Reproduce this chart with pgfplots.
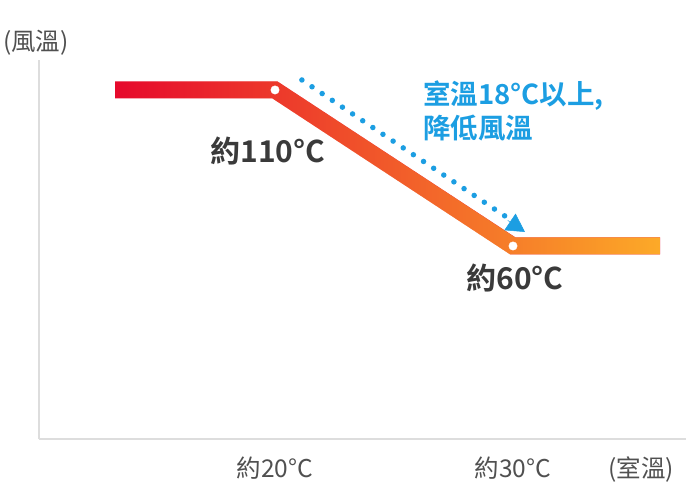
\documentclass[border=0pt]{standalone}
\usepackage{fontspec}
\usepackage{pgfplots}
\pgfplotsset{compat=1.18}
\usetikzlibrary{fadings,arrows.meta}
\setmainfont{Noto Sans CJK TC}
\newfontfamily\cjk{Noto Sans CJK TC}
\newfontfamily\cjkb{Noto Sans CJK TC Bold}
\definecolor{lred}{HTML}{E6072D}
\definecolor{lorange}{HTML}{FDAD28}
\definecolor{cblue}{HTML}{1C9EE2}
\definecolor{txt}{HTML}{3A3A3A}
\definecolor{tick}{HTML}{505050}
\definecolor{axl}{HTML}{DDDDDD}
\tikzfading[name=fadein, left color=transparent!100, right color=transparent!0]
\begin{document}
\begin{tikzpicture}[x=1pt,y=1pt]
\useasboundingbox (0,0) rectangle (686,-491);
\begin{axis}[
  at={(39pt,-439pt)}, anchor=south west,
  scale only axis, width=647pt, height=379pt,
  xmin=10.084, xmax=37.269, ymin=-1.86, ymax=119.6,
  axis x line=bottom, axis y line=left,
  axis line style={-, draw=axl, line width=1.5pt},
  xtick={20,30,35.38}, xticklabels={約20°C,約30°C,(室溫)},
  ytick=\empty, major tick length=0pt,
  xticklabel style={font=\cjk\fontsize{24.5}{28}\selectfont, text=tick, anchor=base, inner sep=0pt, yshift=-38pt},
  clip=false,
]
\addplot[line width=17pt, draw=lred] coordinates {(13.28,110) (20,110) (30,60) (36.18,60)};
\addplot[line width=17pt, draw=lorange, path fading=fadein] coordinates {(13.28,110) (20,110) (30,60) (36.18,60)};
\addplot[only marks, color=white, mark=*, mark size=4.2pt] coordinates {(20,110) (30,60)};
\addplot[draw=cblue, line width=5.5pt, line cap=round, dash pattern=on 0pt off 12.2pt] coordinates {(21.13,113.2) (29.66,69.6)};
\addplot[draw=cblue, line width=0.5pt, -{Triangle[length=18pt,width=20pt]}] coordinates {(29.78,68.2) (30.5,64.5)};
\node[anchor=base west, text=cblue, font=\cjkb\fontsize{27.5}{32}\selectfont, inner sep=0pt] at (axis cs:26.22,105.5) {室溫18°C以上,};
\node[anchor=base west, text=cblue, font=\cjkb\fontsize{27.5}{32}\selectfont, inner sep=0pt] at (axis cs:26.22,94.3) {降低風溫};
\node[anchor=base, text=txt, font=\cjkb\fontsize{30}{34}\selectfont, inner sep=0pt] at (axis cs:19.7,86.6) {約110°C};
\node[anchor=base, text=txt, font=\cjkb\fontsize{30}{34}\selectfont, inner sep=0pt] at (axis cs:30.08,45.9) {約60°C};
\node[anchor=base, text=tick, font=\cjk\fontsize{24.5}{28}\selectfont, inner sep=0pt] at (axis cs:9.95,122.8) {(風溫)};
\end{axis}
\end{tikzpicture}
\end{document}
